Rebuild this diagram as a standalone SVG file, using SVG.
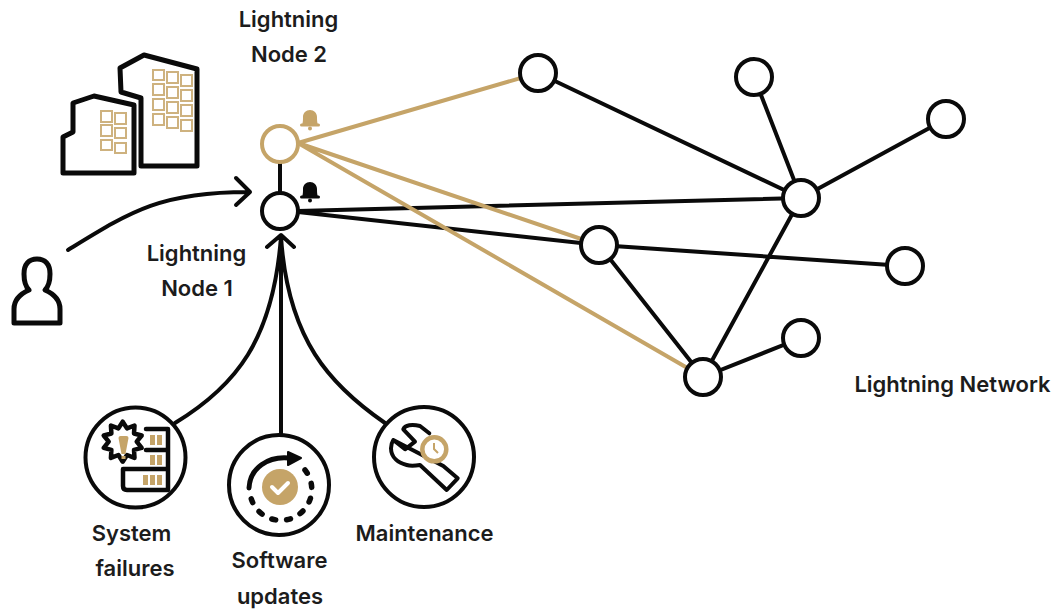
<svg xmlns="http://www.w3.org/2000/svg" width="1053" height="609" viewBox="0 0 1053 609">
<style>
.k{fill:none;stroke:#0a0a0a;stroke-width:4;stroke-linecap:round;stroke-linejoin:round}
.g{fill:none;stroke:#c5a468;stroke-width:4;stroke-linecap:round;stroke-linejoin:round}
.nk{fill:#fff;stroke:#0a0a0a;stroke-width:4}
.ng{fill:#fff;stroke:#c5a468;stroke-width:4}
.w{fill:none;stroke:#c5a468;stroke-width:2;stroke-opacity:.85}
.t{font-family:Inter,"Liberation Sans",sans-serif;font-size:22px;font-weight:600;fill:#1c1c1c;text-anchor:middle}
</style>
<defs>
<g id="bell"><path d="M-8,5 C-7,2 -7,0 -7,-3 C-7,-7 -4,-10 0,-10 C4,-10 7,-7 7,-3 C7,0 7,2 8,5 Z"/><rect x="-10" y="3.500" width="20" height="3" rx="1.500"/><circle cx="0" cy="8.500" r="2"/></g>
</defs>
<g id="connectors">
<path class="k" d="M280,144V211M298,211L801,198M298,212L599,245M538,73L801,198M754,77L801,198M946,119L801,198M801,198L703,377M599,245L905,266M599,245L703,377M703,377L801,338"/>
<path class="g" d="M298,143L538,73M298,143L599,245M298,143L703,377"/>
<path class="k" d="M68,250C130,212 160,192 248,192M236,178L250,192L236,205"/>
<path class="k" d="M281,237V435M175,423C236,386 273,340 281,237M385,423C330,385 288,340 281,237M267,247L281,235L294,247"/>
</g>
<g id="node-2"><circle class="ng" cx="280" cy="144" r="18"/><use href="#bell" x="310" y="120" fill="#c5a468"/></g>
<g id="node-1"><circle class="nk" cx="280" cy="211" r="18"/><use href="#bell" x="310" y="192" fill="#0a0a0a"/></g>
<g id="n3"><circle class="nk" cx="538" cy="73" r="18"/></g>
<g id="n4"><circle class="nk" cx="754" cy="77" r="18"/></g>
<g id="n5"><circle class="nk" cx="946" cy="119" r="18"/></g>
<g id="n6"><circle class="nk" cx="801" cy="198" r="18"/></g>
<g id="n7"><circle class="nk" cx="905" cy="266" r="18"/></g>
<g id="n8"><circle class="nk" cx="599" cy="245" r="18"/></g>
<g id="n9"><circle class="nk" cx="703" cy="377" r="18"/></g>
<g id="n10"><circle class="nk" cx="801" cy="338" r="18"/></g>
<g id="buildings">
<path class="k" style="stroke-width:5" d="M120,68L144,55L197,69V166H141V98L121,92Z"/>
<path class="k" style="stroke-width:5;fill:#fff" d="M73,103L94,96L134,105V173H63V137L73,132Z"/>
<g class="w">
<path d="M153,70h11v10h-11zM167,72h11v11h-11zM181,75h11v11h-11zM153,84h11v11h-11zM167,87h11v11h-11zM181,90h11v11h-11zM153,99h11v11h-11zM167,102h11v11h-11zM181,105h11v11h-11zM153,114h11v11h-11zM167,117h11v11h-11zM181,120h11v11h-11z"/>
<path d="M101,111h11v11h-11zM115,113h11v11h-11zM101,125h11v11h-11zM115,128h11v10h-11zM101,140h11v10h-11zM115,143h11v10h-11z"/>
</g>
</g>
<g id="user"><path class="k" style="stroke-width:5" d="M14,323V309C14,300 20,294 29,290C25,286 24,282 24,274C24,264 29,259 37,259C45,259 50,264 50,274C50,282 49,286 45,290C54,294 60,300 60,309V323Z"/></g>
<g id="failures">
<circle class="k" cx="135.500" cy="457.500" r="50"/>
<path class="k" style="stroke-width:4.500" d="M122.700,421.700L127,428.400L134.500,425.500L134,433.500L141.700,435.500L136.700,441.700L141.700,447.900L134,449.900L134.500,457.900L127,455L122.700,461.700L118.400,455L110.900,457.900L111.400,449.900L103.700,447.900L108.700,441.700L103.700,435.500L111.400,433.500L110.900,425.500L118.400,428.400Z"/>
<path d="M118.500,438Q118.500,436 120.500,436H126.500Q128.500,436 128.500,438L125.500,454H121.500ZM121.500,456h4v3h-4z" fill="#c5a468"/>
<path class="k" style="stroke-width:4.500" d="M146,429H168V490H127Q123,490 123,486V469H168M146,450H168"/>
<path d="M150,435h5v10h-5zM157,435h5v10h-5zM150,455h5v10h-5zM157,455h5v10h-5zM143,475h5v10h-5zM150,475h5v10h-5zM157,475h5v10h-5z" fill="#c5a468"/>
</g>
<g id="updates">
<circle class="k" cx="279" cy="485" r="50"/>
<path class="k" style="stroke-width:5" d="M249,488C250,468 268,456 289,458"/>
<path d="M288,452L301,458L288,465Z" fill="#0a0a0a" stroke="#0a0a0a" stroke-width="2" stroke-linejoin="round"/>
<path class="k" stroke-dasharray="4 10.900" style="stroke-width:5.500" d="M305,470A31,31 0 1 1 251,498"/>
<circle cx="280" cy="487" r="18" fill="#c5a468"/>
<path d="M272,487L278,493L288,483" fill="none" stroke="#fff" stroke-width="4" stroke-linecap="round" stroke-linejoin="round"/>
</g>
<g id="maintenance">
<circle class="k" cx="424" cy="457" r="50"/>
<path class="k" d="M393.300,440L405,449.300L415,441.700L403.300,429.300C405,425 412,424 420,426L429.300,433.300M443.300,466L457.700,478.300L446.700,490L420,465C414,466 410,466 406.700,465C399,463 391,458 391,448.300C391,445 392,442 393.300,440Z"/>
<circle cx="434.300" cy="449.300" r="12" fill="#fff" stroke="#c5a468" stroke-width="4.500"/>
<path d="M434,443V449L438,453" fill="none" stroke="#c5a468" stroke-width="2"/>
</g>
<g id="labels">
<text class="t" x="288.500" y="27">Lightning</text>
<text class="t" x="289" y="62">Node 2</text>
<text class="t" x="196.500" y="261">Lightning</text>
<text class="t" x="197" y="296">Node 1</text>
<text class="t" x="131.500" y="541">System</text>
<text class="t" x="135" y="576">failures</text>
<text class="t" x="279.500" y="568">Software</text>
<text class="t" x="280" y="604">updates</text>
<text class="t" x="424.500" y="541">Maintenance</text>
<text class="t" x="952.500" y="392">Lightning Network</text>
</g>
</svg>
